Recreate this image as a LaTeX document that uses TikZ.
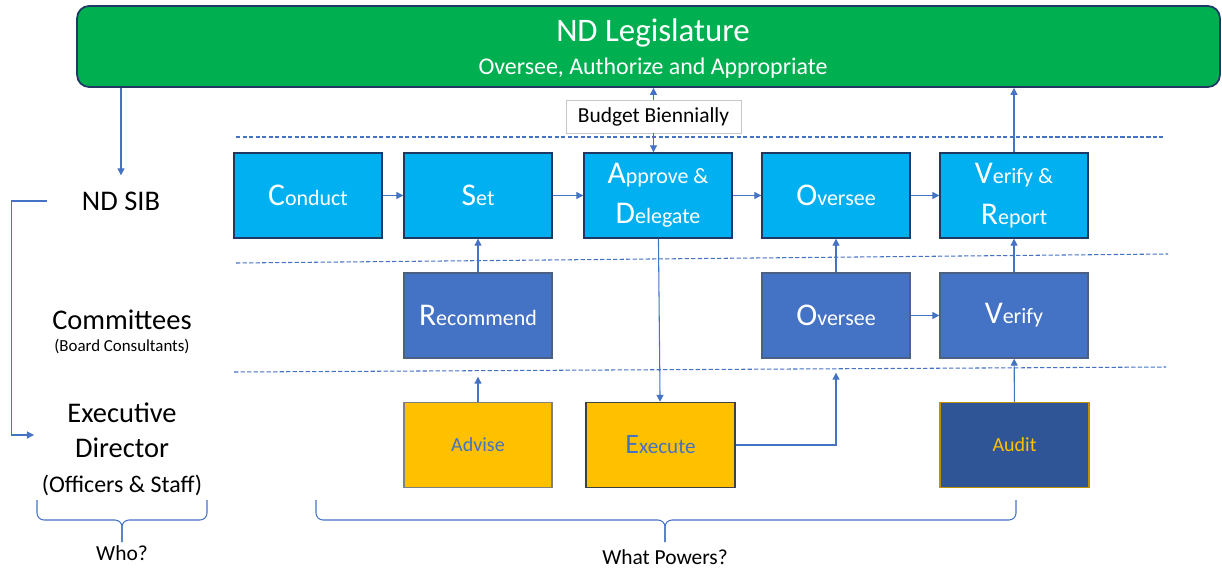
\documentclass[tikz,border=0pt]{standalone}
\usepackage{fontspec}
\setmainfont{Carlito}
\usetikzlibrary{positioning,arrows.meta}

\definecolor{legGreen}{HTML}{00B050}
\definecolor{sibBlue}{HTML}{00B0F0}
\definecolor{comBlue}{HTML}{4472C4}
\definecolor{staffGold}{HTML}{FFC000}
\definecolor{auditBlue}{HTML}{2F5597}
\definecolor{auditEdge}{HTML}{BF9000}
\definecolor{edgeNavy}{HTML}{1F3864}

% big first letter, rest smaller
\newcommand{\initWord}[3][18]{{\fontsize{#1}{23}\selectfont #2}#3}

\tikzstyle{powerBox}=[draw=edgeNavy, line width=0.8pt, minimum width=2.96cm, minimum height=1.7cm, inner sep=0pt, align=center, text=white, font=\fontsize{12.5}{23}\selectfont]
\tikzstyle{boardBox}=[powerBox, fill=sibBlue]
\tikzstyle{committeeBox}=[powerBox, fill=comBlue, draw=edgeNavy!80]
\tikzstyle{staffBox}=[powerBox, fill=staffGold, draw=gray, text=comBlue, font=\fontsize{11.4}{14}\selectfont]
\tikzstyle{whoLabel}=[inner sep=0pt, align=center, font=\fontsize{16.2}{20}\selectfont]
\tikzstyle{powerFlow}=[-{Triangle[length=4pt,width=4pt]}, comBlue, line width=0.6pt]
\tikzstyle{rowDivider}=[comBlue, line width=0.6pt, dash pattern=on 2.5pt off 1.2pt]
\tikzstyle{braceLine}=[comBlue, line width=0.6pt, rounded corners=4pt]

\begin{document}
\begin{tikzpicture}[x=0.02cm, y=-0.02cm]
	\useasboundingbox (0,0) rectangle (1222,568);

	% legislature banner
	\node[draw=edgeNavy, line width=1pt, fill=legGreen, rounded corners=0.24cm, minimum width=22.86cm, minimum height=1.62cm] (legislature) at (648.5,46.5) {};
	\node[text=white, font=\fontsize{18.7}{22}\selectfont] (legTitle) at (653,33) {ND Legislature};
	\node[text=white, font=\fontsize{13.6}{16}\selectfont] (legSub) at (653,68) {Oversee, Authorize and Appropriate};
	\node[draw=gray!45, fill=white, minimum width=3.5cm, minimum height=0.66cm, font=\fontsize{12.2}{14}\selectfont] (budget) at (653.5,116.5) {Budget Biennially};

	% row dividers
	\draw[rowDivider] (236,137) -- (1163,137);
	\draw[rowDivider] (236,263) -- (1168,254);
	\draw[rowDivider] (234,372) -- (1166,367);

	% who
	\node[whoLabel] (sib) at (121,201) {ND SIB};
	\node[whoLabel] (committees) at (122,320) {Committees};
	\node[below=5pt of committees, inner sep=0pt, font=\fontsize{9.6}{12}\selectfont] (boardCons) {(Board Consultants)};
	\node[whoLabel] (execDir) at (122,449) {Executive\\Director\\{\fontsize{13.6}{16}\selectfont (Officers \& Staff)}};

	% board powers
	\node[boardBox] (conduct) at (308,195.5) {\initWord{C}{onduct}};
	\node[boardBox] (set) at (478,195.5) {\initWord{S}{et}};
	\node[boardBox] (approve) at (658,195.5) {\initWord{A}{pprove \&}\\\initWord{D}{elegate}};
	\node[boardBox] (overseeBoard) at (836,195.5) {\initWord{O}{versee}};
	\node[boardBox] (verifyReport) at (1014,195.5) {\initWord{V}{erify \&}\\\initWord{R}{eport}};

	% committee powers
	\node[committeeBox] (recommend) at (478,315.5) {\initWord{R}{ecommend}};
	\node[committeeBox] (overseeCom) at (836,315.5) {\initWord{O}{versee}};
	\node[committeeBox] (verifyCom) at (1014,315.5) {\initWord{V}{erify}};

	% staff powers
	\node[staffBox] (advise) at (478,445) {Advise};
	\node[staffBox, draw=black!75, minimum width=2.98cm, font=\fontsize{12}{14}\selectfont] (execute) at (660.5,445) {\initWord[16]{E}{xecute}};
	\node[staffBox, fill=auditBlue, draw=auditEdge, text=staffGold, minimum width=2.98cm] (audit) at (1014.5,445) {Audit};

	\draw[powerFlow] (legislature.south -| sib.north) -- ([yshift=0.32cm]sib.north);
	\draw[powerFlow] ([xshift=-0.7cm]sib.west) -- ++(-35,0) |- ([xshift=-0.15cm,yshift=0.28cm]execDir.west);
	\draw[powerFlow] (budget) -- (budget |- legislature.south);
	\draw[powerFlow] (budget) -- (budget |- approve.north);

	\draw[powerFlow] (conduct) -- (set);
	\draw[powerFlow] (set) -- (approve);
	\draw[powerFlow] (approve) -- (overseeBoard);
	\draw[powerFlow] (overseeBoard) -- (verifyReport);
	\draw[powerFlow] (verifyReport.north) -- (verifyReport.north |- legislature.south);

	\draw[powerFlow] (recommend) -- (set);
	\draw[powerFlow] (overseeCom) -- (overseeBoard);
	\draw[powerFlow] (overseeCom) -- (verifyCom);
	\draw[powerFlow] (verifyCom) -- (verifyReport);

	\draw[powerFlow] (approve) -- (execute);
	\draw[powerFlow] (advise) -- ([yshift=-0.36cm]recommend.south);
	\draw[powerFlow] (execute.east) -| ([yshift=-0.28cm]overseeCom.south);
	\draw[powerFlow] (audit) -- (verifyCom);

	% braces
	\coordinate (whoTip) at (122,542);
	\coordinate (powersTip) at (665,542);
	\draw[braceLine] (37,500) |- (122,520) -- (whoTip);
	\draw[braceLine] (207,500) |- (122,520) -- (whoTip);
	\draw[braceLine] (316,500) |- (665,520) -- (powersTip);
	\draw[braceLine] (1016,500) |- (665,520) -- (powersTip);
	\node[below=2pt of whoTip, inner sep=0pt, font=\fontsize{12.2}{14}\selectfont] (who) {Who?};
	\node[below=4pt of powersTip, inner sep=0pt, font=\fontsize{12.2}{14}\selectfont] (powers) {What Powers?};
\end{tikzpicture}
\end{document}
